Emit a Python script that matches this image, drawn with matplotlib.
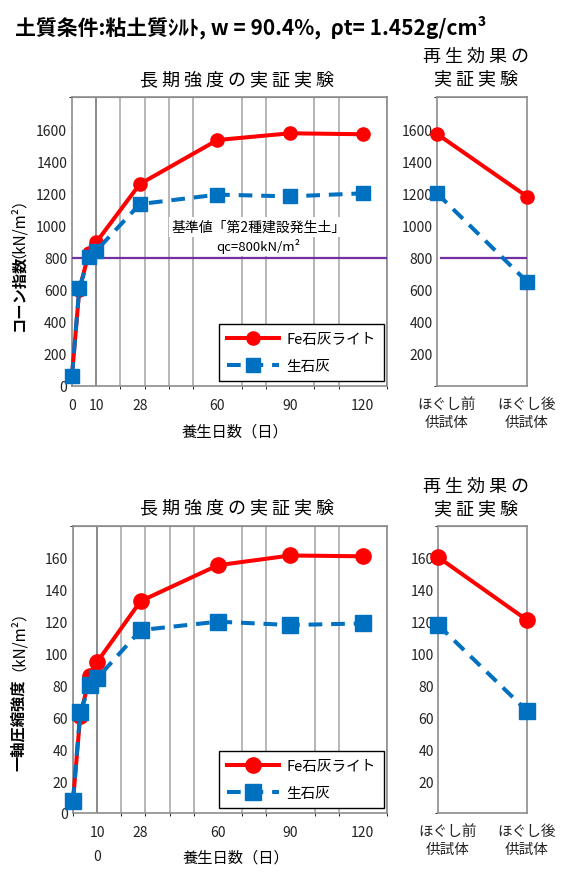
import matplotlib
matplotlib.use('Agg')
import matplotlib.pyplot as plt
import matplotlib.transforms as mtransforms
from matplotlib.ticker import MultipleLocator

plt.rcParams['font.family'] = ['Noto Sans CJK JP', 'DejaVu Sans']

days = [0, 3, 7, 10, 28, 60, 90, 120]
day_ticks = [0, 10, 28, 60, 90, 120]
cone_fe = [64, 600, 830, 895, 1258, 1532, 1574, 1568]
cone_quick = [64, 608, 801, 843, 1133, 1192, 1181, 1200]
qu_fe = [7.7, 61, 86, 94.7, 132.9, 155.4, 161.5, 161]
qu_quick = [7.7, 63.6, 80, 84.5, 114.7, 120, 117.9, 118.9]

regen_labels = ['ほぐし前\n供試体', 'ほぐし後\n供試体']
regen_cone_fe = [1570, 1180]
regen_cone_quick = [1200, 650]
regen_qu_fe = [160.5, 121]
regen_qu_quick = [118, 64]

standard_qc = 800
series_names = ['Fe石灰ライト', '生石灰']

RED = '#FF0000'
BLUE = '#0070C0'
PURPLE = '#7030A0'
VGRID = '#B8B8B8'
VGRID_DARK = '#8A8A8A'
HGRID = '#8C8C8C'
SPINE = '#8C8C8C'

W, H = 573, 878


def px_axes(fig, left, top, right, bottom):
    return fig.add_axes([left / W, 1 - bottom / H, (right - left) / W, (bottom - top) / H])


def draw_series(ax, x, fe, quick, msize):
    ax.plot(x, fe, color=RED, lw=2.9, marker='o', markersize=msize,
            label=series_names[0], clip_on=False, zorder=4)
    ax.plot(x, quick, color=BLUE, lw=2.9, marker='s', markersize=msize,
            dashes=(3.4, 2.2), label=series_names[1], clip_on=False, zorder=5)


def style_box(ax):
    for s in ax.spines.values():
        s.set_color(SPINE)
        s.set_linewidth(1.2)
    ax.tick_params(length=0, labelsize=10, colors='#222222')
    ax.set_axisbelow(True)


def plot_long_term(ax, fe, quick, ymax, ystep, msize, bottom_style=False):
    draw_series(ax, days, fe, quick, msize)
    ax.set_xlim(0, 130)
    ax.set_ylim(0, ymax)
    ax.set_yticks([v for v in range(0, ymax, ystep)])
    ax.yaxis.set_minor_locator(MultipleLocator(ystep))
    ax.xaxis.set_minor_locator(MultipleLocator(10))
    ax.grid(which='minor', axis='x', color=VGRID, lw=1.4)
    ax.grid(which='minor', axis='y', color=HGRID, lw=0.8)
    for d in [10, 50, 100]:
        ax.axvline(d, color=VGRID_DARK, lw=1.4, zorder=0.5)
    if bottom_style:
        ax.set_xticks(day_ticks[1:])
        ax.set_xticklabels(['10\n0'] + [str(d) for d in day_ticks[2:]], linespacing=1.9)
    else:
        ax.set_xticks(day_ticks)
    style_box(ax)
    ax.tick_params(axis='x', pad=8.5)
    ax.tick_params(axis='y', pad=3.5)
    leg = ax.legend(loc='lower right', bbox_to_anchor=(0.99, 0.018), fontsize=10.5,
                    frameon=True, fancybox=False, edgecolor='black', framealpha=1,
                    handlelength=3.6, handletextpad=0.5, labelspacing=0.85,
                    borderpad=0.55, borderaxespad=0, numpoints=1)
    leg.get_frame().set_linewidth(1.0)
    leg.set_zorder(10)


def plot_regen(ax, fe, quick, ymax, ystep, msize):
    draw_series(ax, [0, 1], fe, quick, msize)
    ax.set_xlim(0, 1)
    ax.set_ylim(0, ymax)
    ax.set_yticks(range(ystep, ymax, ystep))
    ax.yaxis.set_minor_locator(MultipleLocator(ystep))
    ax.grid(which='minor', axis='y', color=HGRID, lw=0.8)
    ax.set_xticks([0, 1])
    ax.set_xticklabels(regen_labels, fontsize=10.5, linespacing=1.35)
    style_box(ax)
    ax.tick_params(axis='x', pad=8, labelsize=10.5)
    ax.tick_params(axis='y', pad=3)
    shift = mtransforms.ScaledTranslation(10 / 100, 0, ax.figure.dpi_scale_trans)
    first = ax.get_xticklabels()[0]
    first.set_transform(first.get_transform() + shift)


def ylabel(fig, x, y_bold, y_unit, bold_text):
    # rotated first, then aligned by the rotated box
    fig.text(x / W, 1 - y_bold / H, bold_text, rotation=90,
             ha='center', va='bottom', fontsize=11, fontweight='bold')
    # the unit's box is wider on one side, so pull it back to the same column
    fig.text((x - 8) / W, 1 - y_unit / H, '（kN/m²）', rotation=90,
             ha='center', va='bottom', fontsize=11)


fig = plt.figure(figsize=(W / 100, H / 100), dpi=100)

fig.text(15 / W, 1 - 27 / H, '土質条件:粘土質ｼﾙﾄ, w = 90.4%,  ρt= 1.452g/cm³',
         fontsize=15, fontweight='bold', ha='left', va='center')

# top row: cone index
ax1 = px_axes(fig, 72, 98, 387, 387)
plot_long_term(ax1, cone_fe, cone_quick, 1800, 200, 9.5)
ax1.axhline(standard_qc, color=PURPLE, lw=1.6, zorder=3)
ax1.text(77, 990, '基準値「第2種建設発生土」', ha='center', va='center', fontsize=10,
         bbox=dict(facecolor='white', edgecolor='none', pad=2), zorder=3.5)
ax1.text(77, 872, 'qc=800kN/m²', ha='center', va='center', fontsize=9.5,
         bbox=dict(facecolor='white', edgecolor='none', pad=1.5), zorder=3.5)

ax2 = px_axes(fig, 437, 98, 527, 387)
plot_regen(ax2, regen_cone_fe, regen_cone_quick, 1800, 200, 9.5)
ax2.axhline(standard_qc, xmin=0.04, color=PURPLE, lw=1.6, zorder=3)

# bottom row: unconfined compressive strength
ax3 = px_axes(fig, 73, 527, 387, 814)
plot_long_term(ax3, qu_fe, qu_quick, 180, 20, 11, bottom_style=True)

ax4 = px_axes(fig, 438, 527, 527, 814)
plot_regen(ax4, regen_qu_fe, regen_qu_quick, 180, 20, 11)

# titles and axis labels
for ytop in [80, 508]:
    fig.text(237 / W, 1 - ytop / H, '長 期 強 度 の 実 証 実 験', ha='center', va='center',
             fontsize=13)
fig.text(476 / W, 1 - 68 / H, '再 生 効 果 の\n実 証 実 験', ha='center', va='center',
         fontsize=13, linespacing=1.25)
fig.text(476 / W, 1 - 498 / H, '再 生 効 果 の\n実 証 実 験', ha='center', va='center',
         fontsize=13, linespacing=1.25)

fig.text(235 / W, 1 - 432 / H, '養生日数（日）', ha='center', va='center', fontsize=11)
fig.text(236 / W, 1 - 858 / H, '養生日数（日）', ha='center', va='center', fontsize=11)

ylabel(fig, 18, 331, 258, 'コーン指数')
ylabel(fig, 18, 771, 671, '一軸圧縮強度')

plt.savefig('out.png', dpi=100)
plt.close()
